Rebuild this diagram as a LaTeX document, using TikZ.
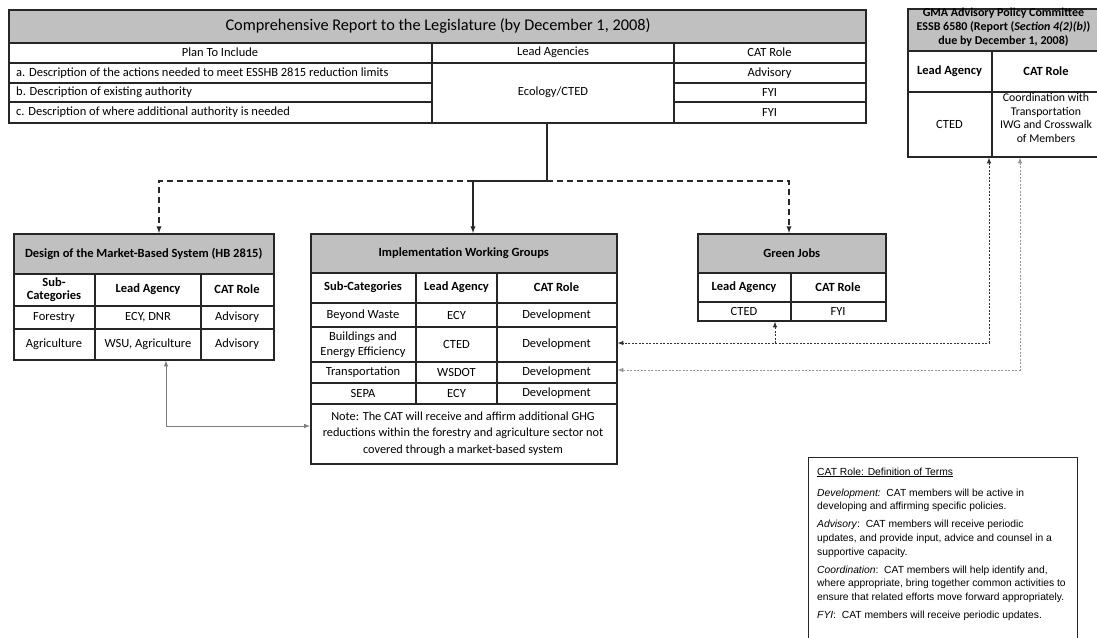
\documentclass[tikz,border=0pt]{standalone}
\usepackage{fontspec}
\setmainfont{Carlito}
\newfontfamily\legendfamily{Liberation Sans}
\usetikzlibrary{arrows,positioning}
\definecolor{bandgray}{RGB}{192,192,192}
\definecolor{linkgray}{RGB}{125,125,125}
\definecolor{dotgray}{RGB}{150,150,150}
\newcommand\bigsize{\fontsize{16.3}{18}\selectfont}
\newcommand\repsize{\fontsize{12.5}{14}\selectfont}
\newcommand\tabsize{\fontsize{12.5}{14}\selectfont}
\newcommand\notesize{\fontsize{12.3}{16.5}\selectfont}
\newcommand\legsize{\legendfamily\fontsize{10.3}{13.7}\selectfont}

\begin{document}
\begin{tikzpicture}[x=1pt,y=-1pt]
\tikzstyle{frame}=[draw=black!85, line width=1.5pt, inner sep=0pt, anchor=north west]
\tikzstyle{band}=[frame, fill=bandgray]
\tikzstyle{grid}=[draw=black!85, line width=1.1pt]
\tikzstyle{cell}=[inner sep=0pt, align=center, font=\tabsize]
\tikzstyle{head}=[cell, font=\tabsize\bfseries]
\tikzstyle{solidlink}=[line width=1.3pt, black!85]
\tikzstyle{dashlink}=[solidlink, dash pattern=on 6pt off 4pt]
\tikzstyle{darkdot}=[line width=1pt, black!80, dash pattern=on 2pt off 1.5pt, >=latex]
\tikzstyle{lightdot}=[darkdot, dotgray]
\useasboundingbox (0,0) rectangle (1097,637);

% report to the legislature
\node[band, minimum width=857pt, minimum height=33pt] (rep-band) at (8,9) {};
\node[frame, minimum width=857pt, minimum height=113pt] (rep) at (8,9) {};
\node[cell, font=\bigsize] (rep-title) at (438,25.5) {Comprehensive Report to the Legislature (by December 1, 2008)};
\draw[grid] (8,63) -- (865,63);
\foreach \y in {83,102} {\draw[grid] (8,\y) -- (432,\y) (674,\y) -- (865,\y);}
\draw[grid] (432,42) -- (432,122) (674,42) -- (674,122);
\node[cell, font=\repsize] (rep-h1) at (220,52.5) {Plan To Include};
\node[cell, font=\repsize] (rep-h2) at (553,52.5) {Lead Agencies};
\node[cell, font=\repsize] (rep-h3) at (769.5,52.5) {CAT Role};
\node[cell, font=\repsize, anchor=west] (rep-a) at (16,73) {a. Description of the actions needed to meet ESSHB 2815 reduction limits};
\node[cell, font=\repsize, anchor=west] (rep-b) at (16,92.5) {b. Description of existing authority};
\node[cell, font=\repsize, anchor=west] (rep-c) at (16,112) {c. Description of where additional authority is needed};
\node[cell, font=\repsize] (rep-lead) at (553,92.5) {Ecology/CTED};
\node[cell, font=\repsize] (rep-ra) at (769.5,73) {Advisory};
\node[cell, font=\repsize] (rep-rb) at (769.5,92.5) {FYI};
\node[cell, font=\repsize] (rep-rc) at (769.5,112) {FYI};

% GMA advisory policy committee
\node[band, minimum width=193pt, minimum height=42pt] (gma-band) at (907,8) {};
\node[frame, minimum width=193pt, minimum height=148pt] (gma) at (907,8) {};
\node[head, font=\fontsize{12}{13.8}\selectfont\bfseries] (gma-title) at (1003.5,27.5) {GMA Advisory Policy Committee\\ESSB 6580 (Report (\textit{Section 4(2)(b)})\\due by December 1, 2008)};
\draw[grid] (907,92) -- (1100,92) (992,50) -- (992,156);
\node[head] (gma-h1) at (949.5,71) {Lead Agency};
\node[head] (gma-h2) at (1046,71) {CAT Role};
\node[cell] (gma-lead) at (949.5,124) {CTED};
\node[cell, font=\fontsize{11.8}{13.7}\selectfont] (gma-role) at (1046,118) {Coordination with\\Transportation\\IWG and Crosswalk\\of Members};

% market-based system
\node[band, minimum width=260pt, minimum height=40pt] (mkt-band) at (13,233) {};
\node[frame, minimum width=260pt, minimum height=126pt] (mkt) at (13,233) {};
\node[head] (mkt-title) at (mkt-band.center) {Design of the Market-Based System (HB 2815)};
\draw[grid] (13,306) -- (273,306) (13,329) -- (273,329);
\draw[grid] (95,273) -- (95,359) (201,273) -- (201,359);
\node[head, font=\fontsize{12.5}{13}\selectfont\bfseries] (mkt-h1) at (54,289.5) {Sub-\\Categories};
\node[head] (mkt-h2) at (148,289.5) {Lead Agency};
\node[head] (mkt-h3) at (237,289.5) {CAT Role};
\node[cell] (mkt-f1) at (54,317.5) {Forestry};
\node[cell] (mkt-f2) at (148,317.5) {ECY, DNR};
\node[cell] (mkt-f3) at (237,317.5) {Advisory};
\node[cell] (mkt-g1) at (54,344) {Agriculture};
\node[cell] (mkt-g2) at (148,344) {WSU, Agriculture};
\node[cell] (mkt-g3) at (237,344) {Advisory};

% implementation working groups
\node[band, minimum width=306pt, minimum height=39pt] (iwg-band) at (310,233) {};
\node[frame, minimum width=306pt, minimum height=230pt] (iwg) at (310,233) {};
\node[head] (iwg-title) at (iwg-band.center) {Implementation Working Groups};
\foreach \y in {303,327,362,383,404} {\draw[grid] (310,\y) -- (616,\y);}
\draw[grid] (416,272) -- (416,404) (497,272) -- (497,404);
\node[head] (iwg-h1) at (363,287.5) {Sub-Categories};
\node[head] (iwg-h2) at (456.5,287.5) {Lead Agency};
\node[head] (iwg-h3) at (556.5,287.5) {CAT Role};
\node[cell] (iwg-w1) at (363,315) {Beyond Waste};
\node[cell] (iwg-w2) at (456.5,315) {ECY};
\node[cell] (iwg-w3) at (556.5,315) {Development};
\node[cell, font=\fontsize{12.5}{15}\selectfont] (iwg-b1) at (363,344.5) {Buildings and\\Energy Efficiency};
\node[cell] (iwg-b2) at (456.5,344.5) {CTED};
\node[cell] (iwg-b3) at (556.5,344.5) {Development};
\node[cell] (iwg-t1) at (363,372.5) {Transportation};
\node[cell] (iwg-t2) at (456.5,372.5) {WSDOT};
\node[cell] (iwg-t3) at (556.5,372.5) {Development};
\node[cell] (iwg-s1) at (363,393.5) {SEPA};
\node[cell] (iwg-s2) at (456.5,393.5) {ECY};
\node[cell] (iwg-s3) at (556.5,393.5) {Development};
\node[cell, font=\notesize] (iwg-note) at (463,433.5) {Note: The CAT will receive and affirm additional GHG\\reductions within the forestry and agriculture sector not\\covered through a market-based system};

% green jobs
\node[band, minimum width=188pt, minimum height=39pt] (gj-band) at (697,233) {};
\node[frame, minimum width=188pt, minimum height=87pt] (gj) at (697,233) {};
\node[head] (gj-title) at (gj-band.center) {Green Jobs};
\draw[grid] (697,302) -- (885,302) (791,272) -- (791,320);
\node[head] (gj-h1) at (744,287) {Lead Agency};
\node[head] (gj-h2) at (838,287) {CAT Role};
\node[cell, font=\repsize] (gj-lead) at (744,311) {CTED};
\node[cell, font=\repsize] (gj-role) at (838,311) {FYI};

% definition of terms
\node[draw=black!85, line width=1pt, minimum width=269pt, minimum height=190pt, inner sep=0pt, anchor=north west] (defs) at (808,457) {};
\node[inner sep=0pt, anchor=north west, align=left, font=\legsize] (defs-text) at (817,467.5) {\underline{CAT Role: Definition of Terms}\\[7.3pt]
\textit{Development:}\ \ CAT members will be active in\\developing and affirming specific policies.\\[4.3pt]
\textit{Advisory}:\ \ CAT members will receive periodic\\updates, and provide input, advice and counsel in a\\supportive capacity.\\[4.3pt]
\textit{Coordination}:\ \ CAT members will help identify and,\\where appropriate, bring together common activities to\\ensure that related efforts move forward appropriately.\\[4.3pt]
\textit{FYI}:\ \ CAT members will receive periodic updates.};

% connectors
\coordinate (split) at (547,181);
\coordinate (mid-turn) at (473,181);
\coordinate (left-turn) at (159,181);
\coordinate (right-turn) at (789,181);
\draw[solidlink] (rep.south -| split) -- (split) -- (mid-turn);
\draw[solidlink, -latex] (mid-turn) -- (mid-turn |- iwg.north);
\draw[dashlink, -latex] (mid-turn) -- (left-turn) -- (left-turn |- mkt.north);
\draw[dashlink, -latex] (split) -- (right-turn) -- (right-turn |- gj.north);

\coordinate (mkt-corner) at (166,426);
\draw[line width=1pt, linkgray, latex-latex] (mkt.south -| mkt-corner) -- (mkt-corner) -- (mkt-corner -| iwg.west);

\coordinate (dark-corner) at (989,343);
\coordinate (gj-tap) at (775,343);
\coordinate (light-corner) at (1020,370);
\draw[darkdot, <->] (gma.south -| dark-corner) -- (dark-corner) -- (dark-corner -| iwg.east);
\draw[darkdot, ->] (gj-tap) -- (gj-tap |- gj.south);
\draw[lightdot, <->] (gma.south -| light-corner) -- (light-corner) -- (light-corner -| iwg.east);
\end{tikzpicture}
\end{document}
